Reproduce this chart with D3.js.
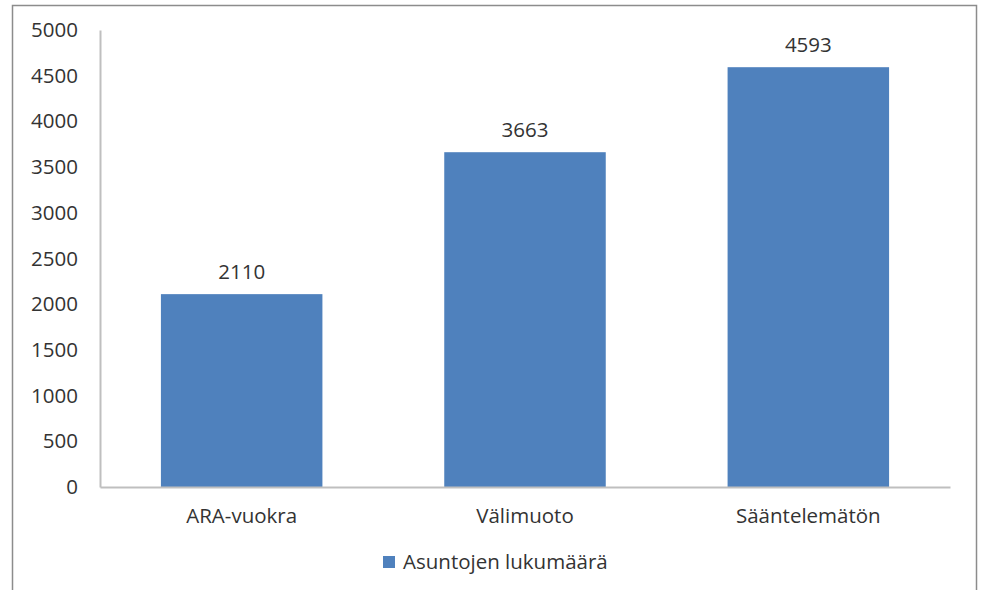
<!DOCTYPE html>
<html><head><meta charset="utf-8">
<script src="https://cdn.jsdelivr.net/npm/d3@7"></script>
<style>body{margin:0;background:#fff}svg{display:block}</style>
</head><body>
<script>
const categories = ["ARA-vuokra", "Välimuoto", "Sääntelemätön"];
const values = [2110, 3663, 4593];
const yTicks = [0, 500, 1000, 1500, 2000, 2500, 3000, 3500, 4000, 4500, 5000];
const seriesName = "Asuntojen lukumäärä";

const W = 981, H = 590;
const svg = d3.select("body").append("svg").attr("width", W).attr("height", H);
const font = "'Open Sans', sans-serif";
const fs = 20.5;

svg.append("rect").attr("x", 12.5).attr("y", 5.5).attr("width", 964).attr("height", 600)
  .attr("fill", "#fff").attr("stroke", "#8c8c8c").attr("stroke-width", 1.5);

const x = d3.scaleBand().domain(categories).range([100, 950]).paddingInner(0.43).paddingOuter(0.215);
const y = d3.scaleLinear().domain([0, 5000]).range([487, 30]);

const g = svg.append("g");

// y axis
const ya = g.append("g").attr("transform", "translate(100,0)")
  .call(d3.axisLeft(y).tickValues(yTicks).tickFormat(d3.format("d")).tickSize(0).tickPadding(22));
ya.select(".domain").attr("stroke", "#bfbfbf").attr("stroke-width", 2);
ya.selectAll("text").attr("font-family", font).attr("font-size", fs).attr("fill", "#333");

// bars
g.selectAll(".bar").data(values).join("rect")
  .attr("x", (d, i) => x(categories[i]))
  .attr("y", d => y(d))
  .attr("width", x.bandwidth())
  .attr("height", d => y(0) - y(d))
  .attr("fill", "#4F81BD");

// x axis
const xa = g.append("g").attr("transform", "translate(0,487)")
  .call(d3.axisBottom(x).tickSize(0).tickPadding(21));
xa.select(".domain").attr("stroke", "#bfbfbf").attr("stroke-width", 2);
xa.selectAll("text").attr("font-family", font).attr("font-size", fs).attr("fill", "#333");

// value labels
g.selectAll(".lbl").data(values).join("text")
  .attr("x", (d, i) => x(categories[i]) + x.bandwidth() / 2)
  .attr("y", d => y(d) - 15)
  .attr("text-anchor", "middle")
  .attr("font-family", font).attr("font-size", fs).attr("fill", "#333")
  .text(d => d);

// legend
const lg = svg.append("g").attr("transform", "translate(383,556)");
lg.append("rect").attr("width", 12).attr("height", 12).attr("fill", "#4F81BD");
lg.append("text").attr("x", 20).attr("y", 13)
  .attr("font-family", font).attr("font-size", fs).attr("fill", "#333").text(seriesName);
</script>
</body></html>
